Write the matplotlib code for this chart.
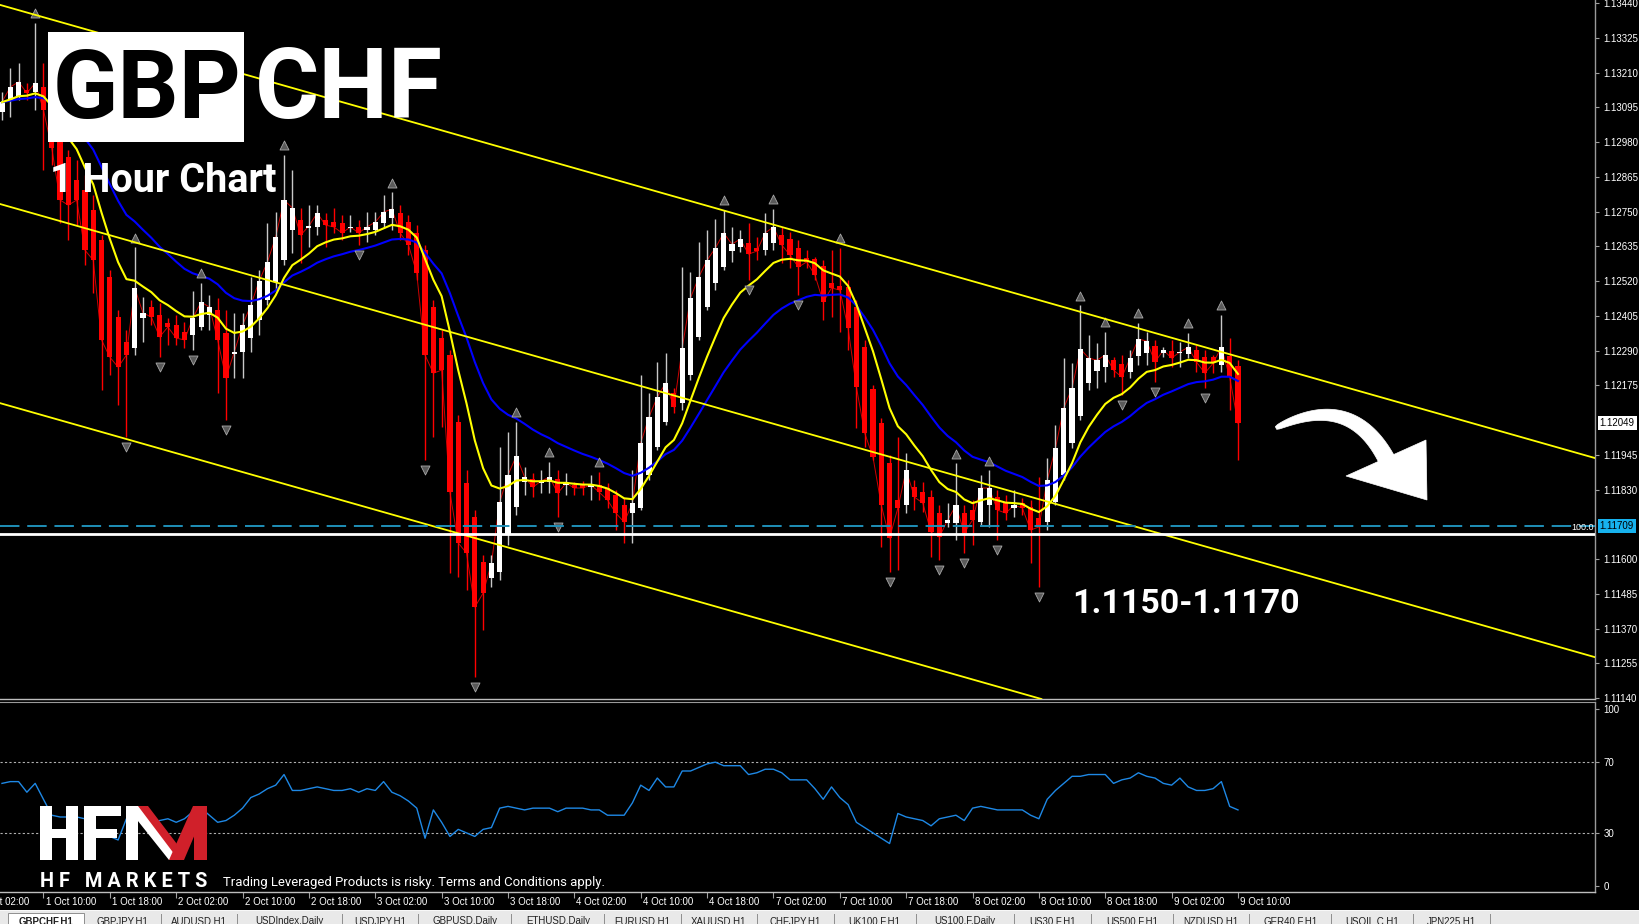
import numpy as np
import pandas as pd
import matplotlib
matplotlib.use("Agg")
import matplotlib.pyplot as plt
from matplotlib.patches import Rectangle, Polygon
from matplotlib.transforms import blended_transform_factory

# ---------------- data (GBPCHF H1, 1 Oct 06:00 .. 9 Oct 10:00) ----------------
opens = [1.13079, 1.13119, 1.13129, 1.13152, 1.13145, 1.13162, 1.13086, 1.12987, 1.12930, 1.12854,
         1.12821, 1.12755, 1.12656, 1.12533, 1.12401, 1.12318, 1.12298, 1.12397, 1.12434, 1.12407,
         1.12381, 1.12374, 1.12351, 1.12341, 1.12368, 1.12407, 1.12424, 1.12348, 1.12278, 1.12285,
         1.12331, 1.12391, 1.12457, 1.12517, 1.12589, 1.12689, 1.12722, 1.12695, 1.12699, 1.12722,
         1.12715, 1.12712, 1.12695, 1.12699, 1.12689, 1.12689, 1.12712, 1.12728, 1.12745, 1.12715,
         1.12679, 1.12622, 1.12434, 1.12331, 1.12275, 1.12053, 1.11851, 1.11739, 1.11590, 1.11537,
         1.11557, 1.11679, 1.11772, 1.11855, 1.11865, 1.11851, 1.11855, 1.11865, 1.11845, 1.11845,
         1.11845, 1.11838, 1.11845, 1.11835, 1.11812, 1.11778, 1.11752, 1.11769, 1.11878, 1.11970,
         1.12053, 1.12149, 1.12116, 1.12209, 1.12335, 1.12434, 1.12513, 1.12566, 1.12619, 1.12632,
         1.12646, 1.12629, 1.12622, 1.12646, 1.12672, 1.12659, 1.12629, 1.12596, 1.12593, 1.12570,
         1.12513, 1.12503, 1.12500, 1.12434, 1.12301, 1.12162, 1.12050, 1.11917, 1.11795, 1.11778,
         1.11838, 1.11821, 1.11805, 1.11752, 1.11719, 1.11719, 1.11752, 1.11762, 1.11722, 1.11778,
         1.11805, 1.11788, 1.11769, 1.11785, 1.11772, 1.11735, 1.11722, 1.11788, 1.11878, 1.11984,
         1.12073, 1.12182, 1.12222, 1.12235, 1.12258, 1.12245, 1.12219, 1.12272, 1.12282, 1.12305,
         1.12282, 1.12288, 1.12282, 1.12278, 1.12291, 1.12268, 1.12268, 1.12242, 1.12272, 1.12239]
highs = [1.13145, 1.13225, 1.13241, 1.13175, 1.13374, 1.13241, 1.13102, 1.13003, 1.12953, 1.12920,
         1.12871, 1.12805, 1.12672, 1.12556, 1.12424, 1.12358, 1.12632, 1.12467, 1.12457, 1.12447,
         1.12397, 1.12407, 1.12384, 1.12487, 1.12513, 1.12474, 1.12464, 1.12424, 1.12414, 1.12414,
         1.12533, 1.12556, 1.12712, 1.12748, 1.12937, 1.12887, 1.12762, 1.12771, 1.12771, 1.12745,
         1.12762, 1.12738, 1.12738, 1.12722, 1.12748, 1.12748, 1.12805, 1.12814, 1.12771, 1.12738,
         1.12705, 1.12639, 1.12457, 1.12358, 1.12291, 1.12076, 1.11894, 1.11762, 1.11613, 1.11613,
         1.11970, 1.12020, 1.12053, 1.11904, 1.11884, 1.11894, 1.11921, 1.11894, 1.11884, 1.11855,
         1.11858, 1.11878, 1.11888, 1.11851, 1.11828, 1.11802, 1.11894, 1.12209, 1.12149, 1.12252,
         1.12282, 1.12166, 1.12566, 1.12550, 1.12649, 1.12689, 1.12725, 1.12755, 1.12699, 1.12689,
         1.12712, 1.12666, 1.12745, 1.12758, 1.12699, 1.12682, 1.12656, 1.12622, 1.12599, 1.12589,
         1.12622, 1.12629, 1.12523, 1.12457, 1.12325, 1.12176, 1.12066, 1.11944, 1.12004, 1.11951,
         1.11861, 1.11855, 1.11828, 1.11778, 1.11785, 1.11917, 1.11778, 1.11795, 1.11878, 1.11894,
         1.11828, 1.11812, 1.11828, 1.11802, 1.11795, 1.11871, 1.11934, 1.12043, 1.12265, 1.12248,
         1.12440, 1.12341, 1.12315, 1.12351, 1.12268, 1.12275, 1.12291, 1.12381, 1.12351, 1.12325,
         1.12301, 1.12325, 1.12318, 1.12348, 1.12308, 1.12291, 1.12275, 1.12407, 1.12331, 1.12258]
lows = [1.13053, 1.13063, 1.13119, 1.13119, 1.13086, 1.12887, 1.12904, 1.12712, 1.12656, 1.12705,
        1.12573, 1.12480, 1.12159, 1.12209, 1.12109, 1.12004, 1.12275, 1.12318, 1.12374, 1.12268,
        1.12308, 1.12308, 1.12298, 1.12291, 1.12358, 1.12358, 1.12149, 1.12060, 1.12199, 1.12199,
        1.12285, 1.12341, 1.12440, 1.12490, 1.12573, 1.12613, 1.12579, 1.12632, 1.12672, 1.12632,
        1.12679, 1.12656, 1.12682, 1.12639, 1.12649, 1.12672, 1.12695, 1.12689, 1.12656, 1.12606,
        1.12523, 1.11927, 1.12004, 1.12037, 1.11553, 1.11540, 1.11497, 1.11209, 1.11365, 1.11507,
        1.11530, 1.11646, 1.11745, 1.11812, 1.11805, 1.11818, 1.11818, 1.11739, 1.11812, 1.11812,
        1.11812, 1.11795, 1.11795, 1.11769, 1.11696, 1.11653, 1.11653, 1.11762, 1.11861, 1.11960,
        1.12043, 1.12083, 1.12093, 1.12192, 1.12325, 1.12424, 1.12490, 1.12556, 1.12583, 1.12616,
        1.12523, 1.12589, 1.12606, 1.12622, 1.12579, 1.12563, 1.12474, 1.12563, 1.12523, 1.12391,
        1.12401, 1.12351, 1.12291, 1.12033, 1.11970, 1.11927, 1.11639, 1.11557, 1.11563, 1.11752,
        1.11762, 1.11755, 1.11606, 1.11596, 1.11706, 1.11663, 1.11620, 1.11646, 1.11712, 1.11706,
        1.11663, 1.11729, 1.11739, 1.11745, 1.11586, 1.11507, 1.11696, 1.11778, 1.11861, 1.11967,
        1.12060, 1.12159, 1.12166, 1.12186, 1.12202, 1.12143, 1.12199, 1.12242, 1.12242, 1.12186,
        1.12268, 1.12235, 1.12235, 1.12265, 1.12219, 1.12166, 1.12215, 1.12219, 1.12093, 1.11927]
closes = [1.13112, 1.13162, 1.13179, 1.13142, 1.13175, 1.13086, 1.12960, 1.12788, 1.12771, 1.12788,
          1.12622, 1.12589, 1.12325, 1.12268, 1.12235, 1.12275, 1.12497, 1.12414, 1.12401, 1.12335,
          1.12368, 1.12331, 1.12325, 1.12397, 1.12450, 1.12434, 1.12325, 1.12199, 1.12285, 1.12374,
          1.12440, 1.12520, 1.12583, 1.12666, 1.12788, 1.12762, 1.12672, 1.12702, 1.12745, 1.12705,
          1.12699, 1.12679, 1.12699, 1.12679, 1.12699, 1.12715, 1.12748, 1.12758, 1.12679, 1.12639,
          1.12546, 1.12275, 1.12215, 1.12225, 1.11821, 1.11653, 1.11620, 1.11441, 1.11487, 1.11586,
          1.11788, 1.11878, 1.11941, 1.11871, 1.11838, 1.11858, 1.11871, 1.11818, 1.11851, 1.11835,
          1.11835, 1.11845, 1.11821, 1.11795, 1.11752, 1.11722, 1.11785, 1.11984, 1.12070, 1.12136,
          1.12182, 1.12103, 1.12298, 1.12464, 1.12533, 1.12589, 1.12629, 1.12679, 1.12642, 1.12659,
          1.12609, 1.12619, 1.12679, 1.12699, 1.12639, 1.12606, 1.12566, 1.12583, 1.12540, 1.12450,
          1.12497, 1.12490, 1.12364, 1.12169, 1.12017, 1.11937, 1.11778, 1.11669, 1.11769, 1.11894,
          1.11805, 1.11785, 1.11689, 1.11673, 1.11729, 1.11778, 1.11686, 1.11729, 1.11835, 1.11835,
          1.11762, 1.11752, 1.11778, 1.11769, 1.11696, 1.11706, 1.11861, 1.11967, 1.12100, 1.12166,
          1.12295, 1.12265, 1.12258, 1.12275, 1.12225, 1.12202, 1.12265, 1.12328, 1.12321, 1.12252,
          1.12291, 1.12265, 1.12285, 1.12301, 1.12252, 1.12215, 1.12248, 1.12301, 1.12202, 1.12049]
rsi_values = [58, 59, 59, 53, 58, 49, 40, 39, 39, 39,
              38, 33, 30, 28, 26, 38, 38, 37, 36, 37,
              38, 36, 38, 42, 44, 40, 36, 37, 40, 44,
              50, 52, 55, 57, 63, 54, 54, 55, 56, 55,
              54, 54, 55, 53, 55, 54, 59, 53, 51, 48,
              44, 27, 43, 36, 28, 32, 30, 28, 32, 33,
              44, 45, 44, 43, 44, 44, 44, 42, 44, 44,
              44, 43, 43, 40, 40, 40, 47, 57, 54, 61,
              56, 56, 65, 65, 67, 69, 70, 68, 68, 68,
              63, 64, 66, 66, 64, 60, 60, 60, 55, 49,
              56, 50, 46, 36, 33, 30, 27, 24, 41, 39,
              38, 37, 34, 38, 39, 40, 37, 44, 45, 44,
              43, 43, 43, 43, 40, 38, 49, 54, 58, 62,
              62, 63, 63, 63, 58, 60, 61, 64, 62, 61,
              58, 57, 61, 56, 54, 54, 55, 59, 45, 43]

time_labels = ["1 Oct 02:00", "1 Oct 10:00", "1 Oct 18:00", "2 Oct 02:00", "2 Oct 10:00",
               "2 Oct 18:00", "3 Oct 02:00", "3 Oct 10:00", "3 Oct 18:00", "4 Oct 02:00",
               "4 Oct 10:00", "4 Oct 18:00", "7 Oct 02:00", "7 Oct 10:00", "7 Oct 18:00",
               "8 Oct 02:00", "8 Oct 10:00", "8 Oct 18:00", "9 Oct 02:00", "9 Oct 10:00"]
first_label_bar = -3      # bar index of "1 Oct 02:00"
bars_per_label = 8

price_ticks = [1.13440, 1.13325, 1.13210, 1.13095, 1.12980, 1.12865, 1.12750, 1.12635,
               1.12520, 1.12405, 1.12290, 1.12175, 1.11945, 1.11830,
               1.11600, 1.11485, 1.11370, 1.11255, 1.11140]
rsi_ticks = [0, 30, 70, 100]
rsi_levels = [30, 70]

# channel anchors: (bar, price)
channel_top = [(0, 1.13432), (190, 1.11950)]
channel_mid = [(0, 1.12773), (190, 1.11291)]
channel_bot = [(0, 1.12114), (190, 1.10632)]
level_line = 1.11684      # white 100.0 level
ask_line = 1.11709
last_price = 1.12049
target_text = "1.1150-1.1170"

tabs = ["GBPCHF,H1", "GBPJPY,H1", "AUDUSD,H1", "USDIndex,Daily", "USDJPY,H1", "GBPUSD,Daily",
        "ETHUSD,Daily", "EURUSD,H1", "XAUUSD,H1", "CHFJPY,H1", "UK100.F,H1", "US100.F,Daily",
        "US30.F,H1", "US500.F,H1", "NZDUSD,H1", "GER40.F,H1", "USOIL.C,H1", "JPN225,H1"]

# ---------------- figure ----------------
W, H = 1640, 924
fig = plt.figure(figsize=(W / 100, H / 100), dpi=100)
fig.patch.set_facecolor("black")


def fx(x):
    return x / W


def fy(y):
    return 1 - y / H


ax = fig.add_axes([0, fy(699), fx(1595), fy(0) - fy(699)])
axr = fig.add_axes([0, fy(892), fx(1595), fy(702) - fy(892)], sharex=ax)
for a in (ax, axr):
    a.set_facecolor("black")
    for s in ("left", "top"):
        a.spines[s].set_visible(False)
    a.spines["right"].set_color("#9a9a9a")
    a.spines["bottom"].set_color("#bdbdbd")
    a.spines["right"].set_linewidth(1.0)
    a.spines["bottom"].set_linewidth(1.0)
axr.spines["top"].set_visible(True)
axr.spines["top"].set_color("#9a9a9a")

o = np.array(opens); h = np.array(highs); l = np.array(lows); c = np.array(closes)
n = len(c)
x = np.arange(n)
bull = c >= o

# thin red price line
ax.plot(x, c, color="#d00000", lw=0.7, zorder=2)
# wicks
ax.vlines(x, l, h, colors=np.where(bull, "#c8c8c8", "#ff0000"), lw=1.0, zorder=3)
# bodies
body_bot = np.minimum(o, c)
body_h = np.maximum(np.abs(c - o), 0.00004)
ax.bar(x, body_h, bottom=body_bot, width=0.62, color=np.where(bull, "#ffffff", "#ff0000"),
       edgecolor="none", zorder=4)

# moving averages
cs = pd.Series(c)
ma_fast = cs.ewm(span=10, adjust=False).mean()
ma_slow = cs.ewm(span=21, adjust=False).mean()
ax.plot(x, ma_slow, color="#0000ff", lw=1.5, zorder=5)
ax.plot(x, ma_fast, color="#ffff00", lw=1.5, zorder=5)

# fractals
up_idx = [i for i in range(2, n - 2) if h[i] > max(h[i - 2], h[i - 1], h[i + 1], h[i + 2])]
dn_idx = [i for i in range(2, n - 2) if l[i] < min(l[i - 2], l[i - 1], l[i + 1], l[i + 2])]
ax.scatter(up_idx, h[up_idx] + 0.00032, marker="^", s=42, color="#5a5a5a",
           edgecolors="#a8a8a8", linewidths=0.6, zorder=6)
ax.scatter(dn_idx, l[dn_idx] - 0.00032, marker="v", s=42, color="#5a5a5a",
           edgecolors="#a8a8a8", linewidths=0.6, zorder=6)

# channel lines
for ch in (channel_top, channel_mid, channel_bot):
    ax.axline(ch[0], ch[1], color="#ffff00", lw=1.3, zorder=6)

# horizontal levels
ax.axhline(ask_line, color="#1f8fb8", lw=1.4, ls=(0, (10, 4)), zorder=6)
ax.axhline(level_line, color="white", lw=2.0, zorder=6)

ax.set_xlim(-0.24, 192.04)
ax.set_ylim(1.111367, 1.13450)

ax.yaxis.tick_right()
ax.set_yticks(price_ticks)
ax.set_yticklabels([f"{p:.5f}" for p in price_ticks])
ax.tick_params(axis="y", colors="#a0a0a0", labelcolor="white", labelsize=7, length=3,
               width=0.8, pad=3, direction="out")
for t in ax.get_yticklabels():
    t.set_family("Liberation Sans")
ax.tick_params(axis="x", bottom=False, labelbottom=False)

tr = blended_transform_factory(ax.transAxes, ax.transData)
ax.text(1.003, last_price, f"{last_price:.5f}", transform=tr, ha="left", va="center",
        fontsize=7, family="Liberation Sans", color="black", clip_on=False, zorder=30,
        bbox=dict(facecolor="white", edgecolor="none", pad=1.5))
ax.text(1.003, ask_line, f"{ask_line:.5f}", transform=tr, ha="left", va="center",
        fontsize=7, family="Liberation Sans", color="black", clip_on=False, zorder=30,
        bbox=dict(facecolor="#17b2ee", edgecolor="none", pad=1.5))
ax.text(0.9995, level_line + 0.00005, "100.0", transform=tr, ha="right", va="bottom",
        fontsize=6.5, family="Liberation Sans", color="white", zorder=30)

# RSI panel
axr.plot(x, rsi_values, color="#1e88e5", lw=1.0, zorder=4)
for lv in rsi_levels:
    axr.axhline(lv, color="#b0b0b0", lw=0.8, ls=(0, (2, 2)), zorder=2)
axr.set_ylim(-3.4, 104)
axr.yaxis.tick_right()
axr.set_yticks(rsi_ticks)
axr.set_yticklabels([str(v) for v in rsi_ticks])
axr.tick_params(axis="y", colors="#a0a0a0", labelcolor="white", labelsize=7, length=3,
                width=0.8, pad=3, direction="out")
for t in axr.get_yticklabels():
    t.set_family("Liberation Sans")

tick_pos = [first_label_bar + bars_per_label * j for j in range(len(time_labels))]
axr.set_xticks([p for p in tick_pos if p >= 0])
axr.set_xticklabels([])
axr.tick_params(axis="x", colors="#a0a0a0", length=4, width=0.8, direction="out")
trx = blended_transform_factory(axr.transData, fig.transFigure)
for p, lab in zip(tick_pos, time_labels):
    axr.text(p + 0.25, fy(902), lab, transform=trx, ha="left", va="center", fontsize=7,
             family="Liberation Sans", color="white", clip_on=False)

# ---------------- overlays ----------------
renderer = fig.canvas.get_renderer()


def fit_text(x0, x1, ybase, s, color, family="Roboto", weight="bold", size=30, z=22):
    t = fig.text(fx(x0), fy(ybase), s, color=color, fontsize=size, family=family,
                 weight=weight, ha="left", va="baseline", zorder=z)
    bb = t.get_window_extent(renderer=renderer)
    t.set_fontsize(size * (x1 - x0) / bb.width)
    return t


fig.add_artist(Rectangle((fx(48), fy(142)), fx(244) - fx(48), fy(32) - fy(142),
                         transform=fig.transFigure, facecolor="white", edgecolor="none", zorder=20))
fit_text(53, 242, 118, "GBP", "black", size=70)
fit_text(255, 443, 118, "CHF", "white", size=70)
fit_text(50, 277, 192, "1 Hour Chart", "white", size=29)
fit_text(1072, 1300, 613, target_text, "white", size=33)

# curved arrow
t = np.linspace(0, 1, 60)
P0 = np.array([1276, 428.0]); P1 = np.array([1352, 390.0]); P2 = np.array([1388, 462.0])
pts = ((1 - t) ** 2)[:, None] * P0 + (2 * (1 - t) * t)[:, None] * P1 + (t ** 2)[:, None] * P2
der = (2 * (1 - t))[:, None] * (P1 - P0) + (2 * t)[:, None] * (P2 - P1)
nrm = np.stack([-der[:, 1], der[:, 0]], axis=1)
nrm /= np.linalg.norm(nrm, axis=1)[:, None]
hw = 1.5 + 7.0 * t ** 0.5
left = pts + nrm * hw[:, None]
right = pts - nrm * hw[:, None]
shaft = np.vstack([left, right[::-1]])
head = np.array([[1346, 476], [1426, 440], [1427, 500]])
for poly in (shaft, head):
    fig.add_artist(Polygon(np.column_stack([poly[:, 0] / W, 1 - poly[:, 1] / H]),
                           closed=True, transform=fig.transFigure, facecolor="white",
                           edgecolor="white", lw=0.5, zorder=22))

# HFM logo


def frect(x0, y0, w, hgt, col):
    fig.add_artist(Rectangle((fx(x0), fy(y0 + hgt)), w / W, hgt / H, transform=fig.transFigure,
                             facecolor=col, edgecolor="none", zorder=22))


def fpoly(pts_, col):
    arr = np.array(pts_, dtype=float)
    fig.add_artist(Polygon(np.column_stack([arr[:, 0] / W, 1 - arr[:, 1] / H]), closed=True,
                           transform=fig.transFigure, facecolor=col, edgecolor="none", zorder=22))


frect(40, 806, 12, 54, "white"); frect(66, 806, 12, 54, "white"); frect(40, 829, 38, 9, "white")
frect(84, 806, 12, 54, "white"); frect(84, 806, 37, 10, "white"); frect(84, 829, 33, 9, "white")
frect(126, 806, 12, 54, "white")
fpoly([(126, 806), (141, 806), (184, 860), (169, 860)], "white")
fpoly([(138, 806), (148, 806), (180, 848), (175, 855)], "#d0202a")
fpoly([(169, 860), (184, 860), (207, 806), (193, 806)], "#d0202a")
frect(194, 806, 13, 54, "#d0202a")

fit_text(40, 207, 887, "H F   M A R K E T S", "white", family="Roboto", weight="bold", size=12)
fit_text(223, 607, 886, "Trading Leveraged Products is risky. Terms and Conditions apply.",
         "white", family="Roboto", weight="normal", size=10)

# tab strip
fig.add_artist(Rectangle((0, 0), 1, fy(911), transform=fig.transFigure, facecolor="#e9e9e9",
                         edgecolor="none", zorder=1))
fig.add_artist(Rectangle((0, fy(911)), 1, 1.0 / H, transform=fig.transFigure,
                         facecolor="#f8f8f8", edgecolor="none", zorder=1))
xt = 8
for i, name in enumerate(tabs):
    wtab = len(name) * 5.6 + 26
    if i == 0:
        fig.add_artist(Rectangle((fx(xt), 0), wtab / W, fy(913), transform=fig.transFigure,
                                 facecolor="white", edgecolor="#808080", lw=0.6, zorder=2))
    fig.text(fx(xt + wtab / 2), fy(926), name, ha="center", va="bottom", fontsize=7,
             family="Liberation Sans", weight="bold" if i == 0 else "normal",
             color="#202020", zorder=3)
    xt += wtab
    fig.add_artist(Rectangle((fx(xt), 0), 1.0 / W, fy(914), transform=fig.transFigure,
                             facecolor="#909090", edgecolor="none", zorder=3))

fig.savefig("out.png", dpi=100, facecolor="black")
